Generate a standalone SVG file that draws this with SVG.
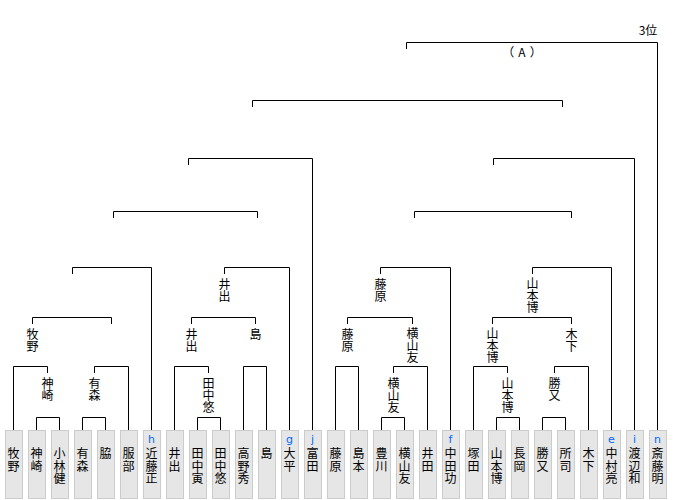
<svg xmlns="http://www.w3.org/2000/svg" width="680" height="500" viewBox="0 0 680 500">
<style>
.bg{fill:#ffffff}
.box{fill:#e6e6e6;stroke:#cccccc;stroke-width:1}
.t{font-family:"Noto Sans CJK JP","Noto Sans CJK SC",sans-serif;font-size:12px;fill:#000000;text-anchor:middle}
.v{font-family:"Noto Sans CJK JP","Noto Sans CJK SC",sans-serif;font-size:12px;fill:#000000;writing-mode:vertical-rl;text-anchor:start}
.n{letter-spacing:0.5px}
.k{font-family:"DejaVu Sans","Noto Sans",sans-serif;font-size:11px;fill:#0066ff;text-anchor:middle}
.c{fill:none;stroke:#000000;stroke-width:1;stroke-linejoin:miter}
</style>
<rect class="bg" x="0" y="0" width="680" height="500"/>
<g id="connectors">
<path class="c" d="M36.5 430V417.5H59.5V430"/>
<path class="c" d="M13.5 430V366.5H47.5V373"/>
<path class="c" d="M82.5 430V417.5H105.5V430"/>
<path class="c" d="M94.5 373V366.5H128.5V430"/>
<path class="c" d="M32.5 324V317.5H111.5V324"/>
<path class="c" d="M72.5 274V267.5H151.5V430"/>
<path class="c" d="M197.5 430V417.5H220.5V430"/>
<path class="c" d="M174.5 430V366.5H208.5V373"/>
<path class="c" d="M243.5 430V366.5H266.5V430"/>
<path class="c" d="M191.5 324V317.5H255.5V324"/>
<path class="c" d="M224.5 274V267.5H289.5V430"/>
<path class="c" d="M113.5 218V211.5H257.5V218"/>
<path class="c" d="M188.5 165V158.5H312.5V430"/>
<path class="c" d="M335.5 430V366.5H358.5V430"/>
<path class="c" d="M381.5 430V417.5H404.5V430"/>
<path class="c" d="M393.5 373V366.5H427.5V430"/>
<path class="c" d="M347.5 324V317.5H412.5V324"/>
<path class="c" d="M380.5 274V267.5H450.5V430"/>
<path class="c" d="M496.5 430V417.5H519.5V430"/>
<path class="c" d="M473.5 430V366.5H507.5V373"/>
<path class="c" d="M542.5 430V417.5H565.5V430"/>
<path class="c" d="M554.5 373V366.5H588.5V430"/>
<path class="c" d="M492.5 324V317.5H571.5V324"/>
<path class="c" d="M532.5 274V267.5H611.5V430"/>
<path class="c" d="M414.5 218V211.5H571.5V218"/>
<path class="c" d="M493.5 165V158.5H634.5V430"/>
<path class="c" d="M252.5 107V100.5H562.5V107"/>
<path class="c" d="M406.5 49V42.5H657.5V430"/>
</g>
<g id="final-labels">
<text class="t" x="648" y="35">3位</text>
<text class="t" x="524" y="57" style="letter-spacing:4px">（A）</text>
</g>
<g id="winner-labels">
<text class="v" x="47.5" y="377.5">神崎</text>
<text class="v" x="32.5" y="328">牧野</text>
<text class="v" x="94.5" y="377.5">有森</text>
<text class="v" x="208.5" y="377.5">田中悠</text>
<text class="v" x="191.5" y="328">井出</text>
<text class="v" x="255.5" y="328">島</text>
<text class="v" x="224.5" y="278">井出</text>
<text class="v" x="347.5" y="328">藤原</text>
<text class="v" x="393.5" y="377.5">横山友</text>
<text class="v" x="412.5" y="327">横山友</text>
<text class="v" x="380.5" y="278">藤原</text>
<text class="v" x="507.5" y="377.5">山本博</text>
<text class="v" x="492.5" y="327">山本博</text>
<text class="v" x="554.5" y="377.5">勝又</text>
<text class="v" x="571.5" y="328">木下</text>
<text class="v" x="532.5" y="277">山本博</text>
</g>
<g id="p0" transform="translate(13.5,0)"><rect class="box" x="-8" y="430.5" width="17" height="68"/><text class="v n" x="0" y="447.5">牧野</text></g>
<g id="p1" transform="translate(36.5,0)"><rect class="box" x="-8" y="430.5" width="17" height="68"/><text class="v n" x="0" y="447.5">神崎</text></g>
<g id="p2" transform="translate(59.5,0)"><rect class="box" x="-8" y="430.5" width="17" height="68"/><text class="v n" x="0" y="447.5">小林健</text></g>
<g id="p3" transform="translate(82.5,0)"><rect class="box" x="-8" y="430.5" width="17" height="68"/><text class="v n" x="0" y="447.5">有森</text></g>
<g id="p4" transform="translate(105.5,0)"><rect class="box" x="-8" y="430.5" width="17" height="68"/><text class="v n" x="0" y="447.5">脇</text></g>
<g id="p5" transform="translate(128.5,0)"><rect class="box" x="-8" y="430.5" width="17" height="68"/><text class="v n" x="0" y="447.5">服部</text></g>
<g id="p6" transform="translate(151.5,0)"><rect class="box" x="-8" y="430.5" width="17" height="68"/><text class="k" x="0" y="443">h</text><text class="v n" x="0" y="447.5">近藤正</text></g>
<g id="p7" transform="translate(174.5,0)"><rect class="box" x="-8" y="430.5" width="17" height="68"/><text class="v n" x="0" y="447.5">井出</text></g>
<g id="p8" transform="translate(197.5,0)"><rect class="box" x="-8" y="430.5" width="17" height="68"/><text class="v n" x="0" y="447.5">田中寅</text></g>
<g id="p9" transform="translate(220.5,0)"><rect class="box" x="-8" y="430.5" width="17" height="68"/><text class="v n" x="0" y="447.5">田中悠</text></g>
<g id="p10" transform="translate(243.5,0)"><rect class="box" x="-8" y="430.5" width="17" height="68"/><text class="v n" x="0" y="447.5">高野秀</text></g>
<g id="p11" transform="translate(266.5,0)"><rect class="box" x="-8" y="430.5" width="17" height="68"/><text class="v n" x="0" y="447.5">島</text></g>
<g id="p12" transform="translate(289.5,0)"><rect class="box" x="-8" y="430.5" width="17" height="68"/><text class="k" x="0" y="443">g</text><text class="v n" x="0" y="447.5">大平</text></g>
<g id="p13" transform="translate(312.5,0)"><rect class="box" x="-8" y="430.5" width="17" height="68"/><text class="k" x="0" y="443">j</text><text class="v n" x="0" y="447.5">富田</text></g>
<g id="p14" transform="translate(335.5,0)"><rect class="box" x="-8" y="430.5" width="17" height="68"/><text class="v n" x="0" y="447.5">藤原</text></g>
<g id="p15" transform="translate(358.5,0)"><rect class="box" x="-8" y="430.5" width="17" height="68"/><text class="v n" x="0" y="447.5">島本</text></g>
<g id="p16" transform="translate(381.5,0)"><rect class="box" x="-8" y="430.5" width="17" height="68"/><text class="v n" x="0" y="447.5">豊川</text></g>
<g id="p17" transform="translate(404.5,0)"><rect class="box" x="-8" y="430.5" width="17" height="68"/><text class="v n" x="0" y="447.5">横山友</text></g>
<g id="p18" transform="translate(427.5,0)"><rect class="box" x="-8" y="430.5" width="17" height="68"/><text class="v n" x="0" y="447.5">井田</text></g>
<g id="p19" transform="translate(450.5,0)"><rect class="box" x="-8" y="430.5" width="17" height="68"/><text class="k" x="0" y="443">f</text><text class="v n" x="0" y="447.5">中田功</text></g>
<g id="p20" transform="translate(473.5,0)"><rect class="box" x="-8" y="430.5" width="17" height="68"/><text class="v n" x="0" y="447.5">塚田</text></g>
<g id="p21" transform="translate(496.5,0)"><rect class="box" x="-8" y="430.5" width="17" height="68"/><text class="v n" x="0" y="447.5">山本博</text></g>
<g id="p22" transform="translate(519.5,0)"><rect class="box" x="-8" y="430.5" width="17" height="68"/><text class="v n" x="0" y="447.5">長岡</text></g>
<g id="p23" transform="translate(542.5,0)"><rect class="box" x="-8" y="430.5" width="17" height="68"/><text class="v n" x="0" y="447.5">勝又</text></g>
<g id="p24" transform="translate(565.5,0)"><rect class="box" x="-8" y="430.5" width="17" height="68"/><text class="v n" x="0" y="447.5">所司</text></g>
<g id="p25" transform="translate(588.5,0)"><rect class="box" x="-8" y="430.5" width="17" height="68"/><text class="v n" x="0" y="447.5">木下</text></g>
<g id="p26" transform="translate(611.5,0)"><rect class="box" x="-8" y="430.5" width="17" height="68"/><text class="k" x="0" y="443">e</text><text class="v n" x="0" y="447.5">中村亮</text></g>
<g id="p27" transform="translate(634.5,0)"><rect class="box" x="-8" y="430.5" width="17" height="68"/><text class="k" x="0" y="443">i</text><text class="v n" x="0" y="447.5">渡辺和</text></g>
<g id="p28" transform="translate(657.5,0)"><rect class="box" x="-8" y="430.5" width="17" height="68"/><text class="k" x="0" y="443">n</text><text class="v n" x="0" y="447.5">斎藤明</text></g>
</svg>
